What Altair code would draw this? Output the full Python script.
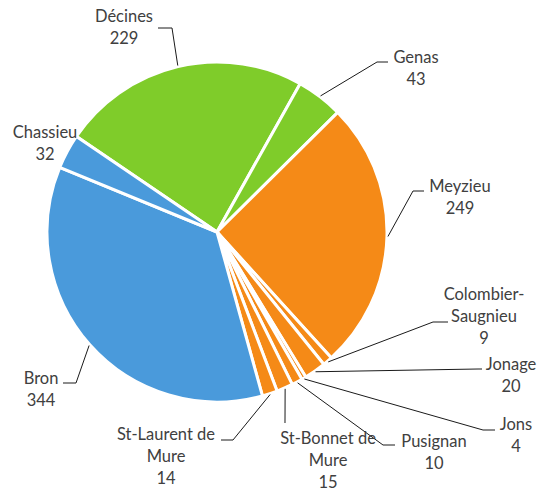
import math
import altair as alt
import pandas as pd

# ---- data ----
NAMES = ["Décines", "Genas", "Meyzieu", "Colombier-\nSaugnieu", "Jonage", "Jons",
         "Pusignan", "St-Bonnet de\nMure", "St-Laurent de\nMure", "Bron", "Chassieu"]
VALUES = [229, 43, 249, 9, 20, 4, 10, 15, 14, 344, 32]
GROUPS = ["vert", "vert", "orange", "orange", "orange", "orange", "orange",
          "orange", "orange", "bleu", "bleu"]
GROUP_DOMAIN = ["vert", "orange", "bleu"]
GROUP_COLORS = ["#7FCC2A", "#F58A17", "#4A9ADB"]

# ---- label layout (offsets from pie centre, px) ----
TEXT_DX = [-93, 199, 243, 267, 294, 299, 217, 111, -51, -176, -172]
TEXT_DY = [-204, -163, -34.5, 85, 144, 204, 221, 228.5, 224.5, 157.5, -88]
ELBOW_DX = [-45, 160, 196, 216, 261, 266, 166, 68, 16, -141, None]
ELBOW_DY = [-204, -170, -41, 90, 137, 198, 213, 191, 208, 151, None]
HEND_DX = [-59, 171, 207, 231, 265, 278, 178, 68, 4, -154, None]

W, H = 537, 482
CX, CY = 209, 224
R = 170
LINE_H = 22
START = math.radians(-55.8)
TOTAL = sum(VALUES)

df = pd.DataFrame({
    "idx": list(range(len(NAMES))),
    "name": NAMES,
    "value": VALUES,
    "group": GROUPS,
    "tdx": TEXT_DX,
    "tdy": TEXT_DY,
    "edx": ELBOW_DX,
    "edy": ELBOW_DY,
    "hdx": HEND_DX,
})

base = alt.Chart(df)

pie = base.mark_arc(radius=R, stroke="white", strokeWidth=3).encode(
    theta=alt.Theta("value:Q", stack=True,
                    scale=alt.Scale(domain=[0, TOTAL], range=[START, START + 2 * math.pi])),
    color=alt.Color("group:N", scale=alt.Scale(domain=GROUP_DOMAIN, range=GROUP_COLORS), legend=None),
    order=alt.Order("idx:Q"),
    x=alt.value(CX),
    y=alt.value(CY),
)

geo = base.transform_window(
    cum="sum(value)", sort=[alt.SortField("idx")], frame=[None, 0]
).transform_calculate(
    mid=f"{START} + 2*PI*(datum.cum - datum.value/2)/{TOTAL}",
    lines="split(datum.name + '\\n' + datum.value, '\\n')",
).transform_calculate(
    sx=f"{CX} + {R + 1}*sin(datum.mid)",
    sy=f"{CY} - {R + 1}*cos(datum.mid)",
    ex=f"{CX} + datum.edx",
    ey=f"{CY} + datum.edy",
    hx=f"{CX} + datum.hdx",
    tx=f"{CX} + datum.tdx",
    ty=f"{CY} + datum.tdy - (length(datum.lines) - 1)*{LINE_H / 2}",
)

lines_geo = geo.transform_filter("isValid(datum.edx)")

seg1 = lines_geo.mark_rule(color="#1a1a1a", strokeWidth=1).encode(
    x=alt.X("sx:Q", scale=None), y=alt.Y("sy:Q", scale=None),
    x2="ex:Q", y2="ey:Q",
)
seg2 = lines_geo.mark_rule(color="#1a1a1a", strokeWidth=1).encode(
    x=alt.X("ex:Q", scale=None), y=alt.Y("ey:Q", scale=None),
    x2="hx:Q", y2="ey:Q",
)

labels = geo.mark_text(align="center", baseline="middle", lineHeight=LINE_H,
                       fontSize=16.5, font="Lato", color="#404040").encode(
    x=alt.X("tx:Q", scale=None), y=alt.Y("ty:Q", scale=None),
    text="lines:N",
)

chart = alt.layer(pie, seg1, seg2, labels).properties(
    width=W, height=H, padding=0, autosize="none"
).configure_view(stroke=None)

chart.save("out.html", embed_options={"renderer": "svg", "actions": False})
